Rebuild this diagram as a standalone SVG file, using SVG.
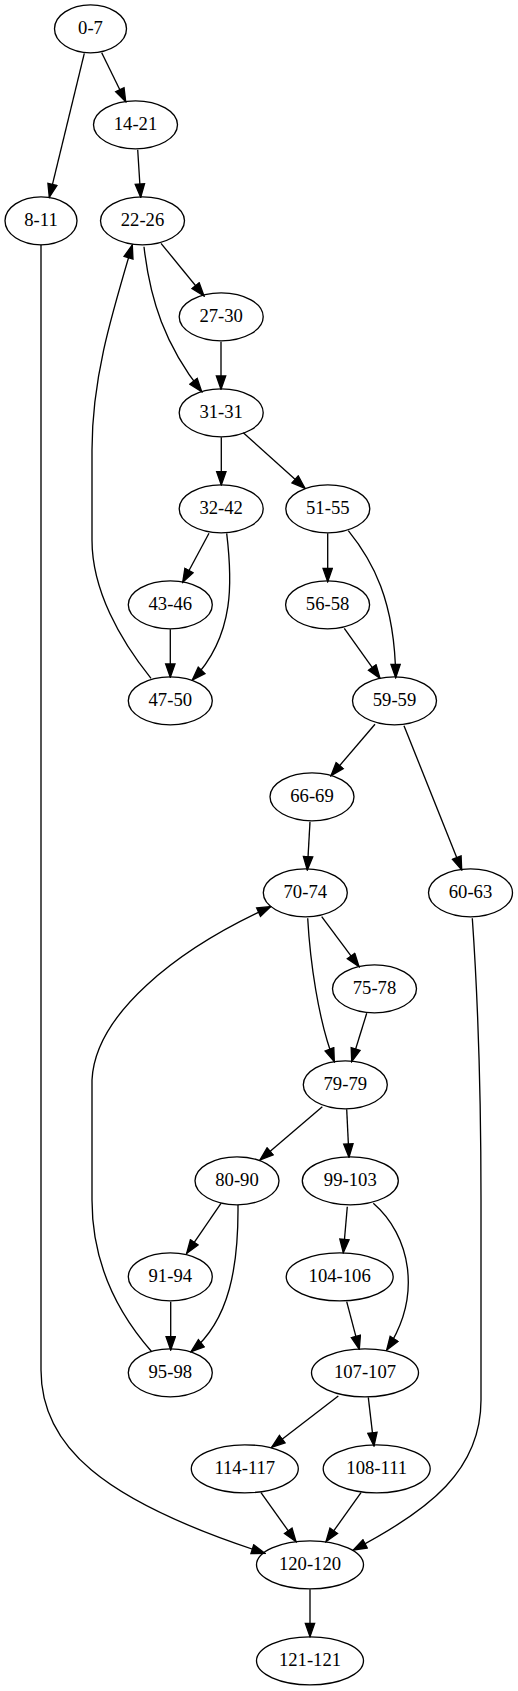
<svg xmlns="http://www.w3.org/2000/svg" width="518" height="1691" viewBox="0 0 518 1691">
<style>
.node ellipse{fill:none;stroke:#000;stroke-width:1.33}
.node text{font-family:"Liberation Serif","Times New Roman",serif;font-size:18.67px;text-anchor:middle;fill:#000}
.edges path{fill:none;stroke:#000;stroke-width:1.33;marker-end:url(#arrow)}
</style>
<defs>
<marker id="arrow" markerUnits="userSpaceOnUse" viewBox="-1 -1 15.5 11.5" markerWidth="15.5" markerHeight="11.5" refX="13.33" refY="4.67" orient="auto">
<path d="M0,0 L13.33,4.67 L0,9.33 Z" fill="#000" stroke="#000" stroke-width="1.33"/>
</marker>
</defs>
<rect x="0" y="0" width="518" height="1691" fill="#fff"/>
<g class="edges">
<path d="M84.3,53.3 L49.3,197.3"/>
<path d="M101.7,52.7 L125.7,101.7"/>
<path d="M137.7,149.7 L140.7,197.3"/>
<path d="M161,243.3 L204,296"/>
<path d="M144,246.7 C150,300 165,345 201.7,391.7"/>
<path d="M221,341.7 L221,389.3"/>
<path d="M221.3,437.3 L221.3,485"/>
<path d="M243.3,432.7 L305,488.3"/>
<path d="M209,533.3 L182.7,582.3"/>
<path d="M226.7,533.3 C232,578 236,635 192.3,680"/>
<path d="M170.3,629.3 L170.3,677.3"/>
<path d="M151,678.3 C120,640 92,590 92,540 L92,450 C92,380 110,320 132.3,245"/>
<path d="M327.7,533.3 L327.7,581.7"/>
<path d="M348.3,530.7 C372,560 395,600 395.7,677.7"/>
<path d="M344.3,628.3 L380,678.3"/>
<path d="M375,724.3 L331,775.7"/>
<path d="M404,725.7 L461.7,870"/>
<path d="M310,821.7 L307.3,870"/>
<path d="M321.7,916.7 L359,966.7"/>
<path d="M307.7,918.3 C310,960 318,1020 334.3,1061.7"/>
<path d="M366.7,1013.3 L351.7,1061.7"/>
<path d="M322.3,1106.7 L260,1160"/>
<path d="M346.7,1109.3 L349,1157.3"/>
<path d="M221,1203.3 L186.7,1253.3"/>
<path d="M238,1205 C238.5,1265 230,1320 191,1351.7"/>
<path d="M170.7,1301.7 L170.7,1350"/>
<path d="M151.7,1351.7 C115,1310 92,1260 92,1200 L92,1080 C95,1015 175,950 270.7,906.7"/>
<path d="M347.3,1206.7 L343.3,1252.7"/>
<path d="M373.3,1203.3 C410,1235 423,1295 386.7,1350"/>
<path d="M346.7,1301.7 L359.3,1349.3"/>
<path d="M338.3,1396 L271.7,1447.3"/>
<path d="M368.3,1397.3 L374,1446"/>
<path d="M261,1492.7 L296,1541.7"/>
<path d="M361,1492.7 L326,1541.7"/>
<path d="M310,1589.3 L310,1636.7"/>
<path d="M41,244.8 L41,1370 C41,1445 100,1500 265,1553.3"/>
<path d="M472.3,918.3 C478,1000 481,1100 481,1200 L481,1400 C481,1470 430,1510 353.3,1550"/>
</g>
<g id="n0-7" class="node"><ellipse cx="90.5" cy="28.8" rx="36" ry="24"/><text x="90.5" y="34.4">0-7</text></g>
<g id="n14-21" class="node"><ellipse cx="135.5" cy="124.8" rx="42" ry="24"/><text x="135.5" y="130.4">14-21</text></g>
<g id="n8-11" class="node"><ellipse cx="41" cy="220.8" rx="36" ry="24"/><text x="41" y="226.4">8-11</text></g>
<g id="n22-26" class="node"><ellipse cx="142.5" cy="220.8" rx="42" ry="24"/><text x="142.5" y="226.4">22-26</text></g>
<g id="n27-30" class="node"><ellipse cx="221.2" cy="316.8" rx="42" ry="24"/><text x="221.2" y="322.4">27-30</text></g>
<g id="n31-31" class="node"><ellipse cx="221.2" cy="412.8" rx="42" ry="24"/><text x="221.2" y="418.4">31-31</text></g>
<g id="n32-42" class="node"><ellipse cx="221.2" cy="508.8" rx="42" ry="24"/><text x="221.2" y="514.4">32-42</text></g>
<g id="n51-55" class="node"><ellipse cx="327.8" cy="508.8" rx="42" ry="24"/><text x="327.8" y="514.4">51-55</text></g>
<g id="n43-46" class="node"><ellipse cx="170.3" cy="604.8" rx="42" ry="24"/><text x="170.3" y="610.4">43-46</text></g>
<g id="n56-58" class="node"><ellipse cx="327.6" cy="604.8" rx="42" ry="24"/><text x="327.6" y="610.4">56-58</text></g>
<g id="n47-50" class="node"><ellipse cx="170.3" cy="700.8" rx="42" ry="24"/><text x="170.3" y="706.4">47-50</text></g>
<g id="n59-59" class="node"><ellipse cx="394.5" cy="700.8" rx="42" ry="24"/><text x="394.5" y="706.4">59-59</text></g>
<g id="n66-69" class="node"><ellipse cx="312" cy="796.8" rx="42" ry="24"/><text x="312" y="802.4">66-69</text></g>
<g id="n70-74" class="node"><ellipse cx="305.3" cy="892.8" rx="42" ry="24"/><text x="305.3" y="898.4">70-74</text></g>
<g id="n60-63" class="node"><ellipse cx="470.5" cy="892.8" rx="42" ry="24"/><text x="470.5" y="898.4">60-63</text></g>
<g id="n75-78" class="node"><ellipse cx="374.5" cy="988.8" rx="42" ry="24"/><text x="374.5" y="994.4">75-78</text></g>
<g id="n79-79" class="node"><ellipse cx="345.3" cy="1084.8" rx="42" ry="24"/><text x="345.3" y="1090.4">79-79</text></g>
<g id="n80-90" class="node"><ellipse cx="237" cy="1180.8" rx="42" ry="24"/><text x="237" y="1186.4">80-90</text></g>
<g id="n99-103" class="node"><ellipse cx="350.3" cy="1180.8" rx="48" ry="24"/><text x="350.3" y="1186.4">99-103</text></g>
<g id="n91-94" class="node"><ellipse cx="170.3" cy="1276.8" rx="42" ry="24"/><text x="170.3" y="1282.4">91-94</text></g>
<g id="n104-106" class="node"><ellipse cx="339.7" cy="1276.8" rx="53.5" ry="24"/><text x="339.7" y="1282.4">104-106</text></g>
<g id="n95-98" class="node"><ellipse cx="170.3" cy="1372.8" rx="42" ry="24"/><text x="170.3" y="1378.4">95-98</text></g>
<g id="n107-107" class="node"><ellipse cx="365" cy="1372.8" rx="53.5" ry="24"/><text x="365" y="1378.4">107-107</text></g>
<g id="n114-117" class="node"><ellipse cx="244.8" cy="1468.8" rx="53.5" ry="24"/><text x="244.8" y="1474.4">114-117</text></g>
<g id="n108-111" class="node"><ellipse cx="376.7" cy="1468.8" rx="53.5" ry="24"/><text x="376.7" y="1474.4">108-111</text></g>
<g id="n120-120" class="node"><ellipse cx="310" cy="1564.8" rx="53.5" ry="24"/><text x="310" y="1570.4">120-120</text></g>
<g id="n121-121" class="node"><ellipse cx="310" cy="1660.8" rx="53.5" ry="24"/><text x="310" y="1666.4">121-121</text></g>
</svg>
